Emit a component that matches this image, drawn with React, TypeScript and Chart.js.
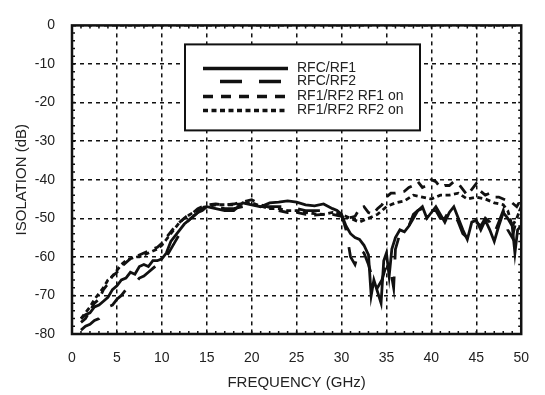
import React, { useEffect, useRef } from "react";
import { Chart, registerables } from "chart.js";

Chart.register(...registerables);

const seriesLabels = ["RFC/RF1", "RFC/RF2", "RF1/RF2 RF1 on", "RF1/RF2 RF2 on"];

const rfcRf1Freq = [1, 1.5, 2, 2.5, 3, 3.5, 4, 4.5, 5, 5.5, 6, 6.5, 7, 7.5, 8, 8.5, 9, 9.5, 10, 10.5, 11, 11.5, 12, 12.5, 13, 13.5, 14, 14.5, 15, 16, 17, 18, 19, 20, 21, 22, 23, 24, 25, 26, 27, 28, 29, 29.5, 30, 30.5, 31, 31.5, 32, 32.5, 33, 33.3, 33.6, 34, 34.4, 34.7, 35, 35.3, 35.6, 36, 36.5, 37, 37.5, 38, 38.5, 39, 39.5, 40, 40.5, 41, 41.5, 42, 42.5, 43, 43.5, 44, 44.5, 45, 45.5, 46, 46.5, 47, 47.5, 48, 48.5, 49, 49.3, 49.6, 50];
const rfcRf1 = [-76, -75, -74.5, -73, -72.5, -71.5, -70.5, -68.5, -67.5, -66, -65.5, -64, -64.5, -62.5, -62, -62.5, -61, -61, -60.5, -59, -56, -54.5, -53, -51.5, -50.5, -49.5, -48.5, -48, -47, -47.5, -48, -48, -46, -46.5, -47, -46, -45.8, -45.5, -45.8, -46.5, -46.8, -46.3, -47.5, -48, -49, -52, -54, -55, -55.5, -57, -59.5, -70, -66, -69, -72, -61, -59, -65, -58, -55, -53, -53.5, -52, -50, -48, -47, -50, -48.5, -47, -49, -51, -48.5, -47, -50, -53, -55.5, -51, -50.5, -53, -50.5, -53, -56, -52, -48.5, -50, -52, -59, -53, -52];

const rfcRf2Freq = [1, 1.5, 2, 2.5, 3, 3.5, 4, 4.5, 5, 5.5, 6, 6.5, 7, 7.5, 8, 8.5, 9, 9.5, 10, 10.5, 11, 11.5, 12, 12.5, 13, 13.5, 14, 14.5, 15, 16, 17, 18, 19, 20, 21, 22, 23, 24, 25, 26, 27, 28, 29, 29.5, 30, 30.5, 31, 31.5, 32, 32.5, 33, 33.5, 34, 34.5, 35, 35.5, 35.8, 36, 36.5, 37, 37.5, 38, 38.5, 39, 39.5, 40, 40.5, 41, 41.5, 42, 42.5, 43, 43.5, 44, 44.5, 45, 45.5, 46, 46.5, 47, 47.5, 48, 48.5, 49, 49.5, 50];
const rfcRf2 = [-79, -78, -77.5, -76.5, -76, -74, -73, -72.5, -71, -70, -68.5, -67.5, -67, -65.5, -65, -64, -63, -62, -61.5, -60, -58, -56, -54, -52, -50.5, -49.5, -48.5, -47.5, -47, -47, -47.5, -47.5, -47, -46.5, -47, -47, -47, -47, -47.5, -48, -48, -48, -48, -48.5, -49, -53, -60, -62, -58, -59, -62, -66, -68, -66, -62, -64, -68, -58, -54, -53, -52, -49, -48, -47.5, -49.5, -48, -48, -50, -50, -48, -48.5, -51, -54, -55, -52, -51, -52, -50, -51, -54, -51, -48, -53, -55, -50, -48];

const rf1OnFreq = [1, 1.5, 2, 2.5, 3, 3.5, 4, 4.5, 5, 5.5, 6, 6.5, 7, 7.5, 8, 8.5, 9, 9.5, 10, 10.5, 11, 11.5, 12, 12.5, 13, 13.5, 14, 14.5, 15, 16, 17, 18, 19, 20, 21, 22, 23, 24, 25, 26, 27, 28, 29, 30, 31, 31.5, 32, 32.5, 33, 33.5, 34, 34.5, 35, 35.5, 36, 36.5, 37, 37.5, 38, 38.5, 39, 39.5, 40, 40.5, 41, 41.5, 42, 42.5, 43, 43.5, 44, 44.5, 45, 45.5, 46, 46.5, 47, 47.5, 48, 48.5, 49, 49.5, 50];
const rf1On = [-77, -76, -74, -72, -71, -68.5, -67, -65, -64, -62.5, -61.5, -60.5, -60, -59.5, -59, -58.5, -58, -57.5, -56.5, -55, -53.5, -52, -51, -50, -49, -48.5, -47.5, -47, -46.5, -46.3, -46.5, -46.3, -45.8, -45.2, -46.5, -47.2, -48, -48.5, -48.5, -49, -49.2, -49, -49, -49.5, -49.8, -49.5, -47.5, -47, -48.5, -49, -47.5, -46.5, -44.5, -43.5, -43.5, -43.3, -43, -42, -41.5, -40.5, -42, -41.5, -40, -40.5, -42, -41.5, -41.5, -40.5, -41, -42.5, -44, -42.5, -41, -43, -44, -43.5, -44.5, -44.5, -45, -45.5, -46, -47, -45];

const rf2OnFreq = [1, 1.5, 2, 2.5, 3, 3.5, 4, 4.5, 5, 5.5, 6, 6.5, 7, 7.5, 8, 8.5, 9, 9.5, 10, 10.5, 11, 11.5, 12, 12.5, 13, 13.5, 14, 14.5, 15, 16, 17, 18, 19, 20, 21, 22, 23, 24, 25, 26, 27, 28, 29, 30, 31, 32, 33, 34, 35, 36, 37, 38, 39, 40, 41, 42, 43, 44, 45, 46, 47, 48, 48.5, 49, 49.5, 50];
const rf2On = [-76, -74.5, -73, -71, -69.5, -68, -66, -65, -63.5, -62, -61, -60.5, -60, -60, -59.5, -59, -58.5, -58, -57, -55.5, -54, -52.5, -51, -50, -49.2, -48.5, -47.8, -47.2, -47, -46.5, -46.5, -46.5, -46.2, -46, -46.8, -47.5, -47.5, -48, -48, -48.5, -48.8, -49, -48.5, -49, -50, -51, -50, -49, -47, -46, -45.5, -44, -44.5, -45, -44, -44, -43.5, -45, -44.5, -45, -46, -46.5, -48, -52, -50, -47];

const xTicksStep = 5;
const yTicksStep = 10;

const INK = "#111";
const TEXT = "#222";
const FONT = "'Liberation Sans', Arial, Helvetica, sans-serif";

const plotDashes: number[][] = [[], [22, 17], [10, 8], [5, 3.5]];

const framePlugin = {
  id: "frameAndLegend",
  afterDatasetsDraw(chart: any) {
    const { ctx, chartArea, scales } = chart;
    const { left, right, top, bottom } = chartArea;
    ctx.save();
    // minor ticks
    ctx.strokeStyle = INK;
    ctx.lineWidth = 1.5;
    ctx.setLineDash([]);
    ctx.beginPath();
    for (let f = 1; f < 50; f++) {
      const x = scales.x.getPixelForValue(f);
      ctx.moveTo(x, bottom);
      ctx.lineTo(x, bottom - 3);
      ctx.moveTo(x, top);
      ctx.lineTo(x, top + 3);
    }
    for (let v = -78; v < 0; v += 2) {
      const y = scales.y.getPixelForValue(v);
      ctx.moveTo(left, y);
      ctx.lineTo(left + 3, y);
      ctx.moveTo(right, y);
      ctx.lineTo(right - 3, y);
    }
    ctx.stroke();
    // frame
    ctx.lineWidth = 2.5;
    ctx.strokeRect(left, top, right - left, bottom - top);

    // legend box
    const bx = left + 113;
    const by = top + 19;
    const bw = 235;
    const bh = 86;
    ctx.fillStyle = "#fff";
    ctx.fillRect(bx, by, bw, bh);
    ctx.lineWidth = 2;
    ctx.strokeRect(bx, by, bw, bh);
    const rows = [24, 37, 52, 66];
    chart.data.datasets.forEach((ds: any, i: number) => {
      const y = by + rows[i];
      ctx.save();
      ctx.strokeStyle = INK;
      ctx.lineWidth = 3.5;
      ctx.setLineDash(ds.borderDash || []);
      ctx.lineDashOffset = i === 1 ? 22 : 0;
      ctx.beginPath();
      ctx.moveTo(bx + 18, y);
      ctx.lineTo(bx + 103, y);
      ctx.stroke();
      ctx.restore();
      ctx.fillStyle = TEXT;
      ctx.font = `14px ${FONT}`;
      ctx.textAlign = "left";
      ctx.textBaseline = "middle";
      ctx.fillText(ds.label, bx + 112, y);
    });
    ctx.restore();
  },
};

export default function App() {
  const ref = useRef<HTMLCanvasElement | null>(null);
  useEffect(() => {
    if (!ref.current) return;
    const freqs = [rfcRf1Freq, rfcRf2Freq, rf1OnFreq, rf2OnFreq];
    const vals = [rfcRf1, rfcRf2, rf1On, rf2On];
    const chart = new Chart(ref.current, {
      type: "line",
      data: {
        datasets: seriesLabels.map((label, i) => ({
          label,
          data: freqs[i].map((f, j) => ({ x: f, y: vals[i][j] })),
          borderColor: INK,
          borderWidth: 2.8,
          borderDash: plotDashes[i],
          pointRadius: 0,
          tension: 0,
          fill: false,
        })),
      },
      options: {
        animation: false,
        responsive: false,
        layout: { padding: { top: 16, right: 11, left: 0, bottom: 0 } },
        plugins: { legend: { display: false }, tooltip: { enabled: false } },
        scales: {
          x: {
            type: "linear",
            min: 0,
            max: 50,
            afterFit: (s: any) => {
              s.height = 61;
            },
            ticks: {
              stepSize: xTicksStep,
              color: TEXT,
              font: { size: 14, family: FONT },
              padding: 16,
              maxRotation: 0,
            },
            grid: { color: INK, lineWidth: 1.5, drawTicks: false },
            border: { display: false, dash: [4, 4] },
            title: {
              display: true,
              text: "FREQUENCY (GHz)",
              color: TEXT,
              font: { size: 15, family: FONT },
              padding: { top: 0, bottom: 3 },
            },
          },
          y: {
            type: "linear",
            min: -80,
            max: 0,
            afterFit: (s: any) => {
              s.width = 72;
            },
            ticks: {
              stepSize: yTicksStep,
              color: TEXT,
              font: { size: 14, family: FONT },
              padding: 17,
            },
            grid: { color: INK, lineWidth: 1.5, drawTicks: false },
            border: { display: false, dash: [4, 4] },
            title: {
              display: true,
              text: "ISOLATION (dB)",
              color: TEXT,
              font: { size: 15, family: FONT },
              padding: { top: 13, bottom: 0 },
            },
          },
        },
      },
      plugins: [framePlugin],
    });
    return () => chart.destroy();
  }, []);
  return (
    <div style={{ position: "absolute", left: 0, top: 0, width: 545, height: 395, background: "#fff" }}>
      <canvas ref={ref} width={545} height={395} style={{ display: "block" }} />
    </div>
  );
}
